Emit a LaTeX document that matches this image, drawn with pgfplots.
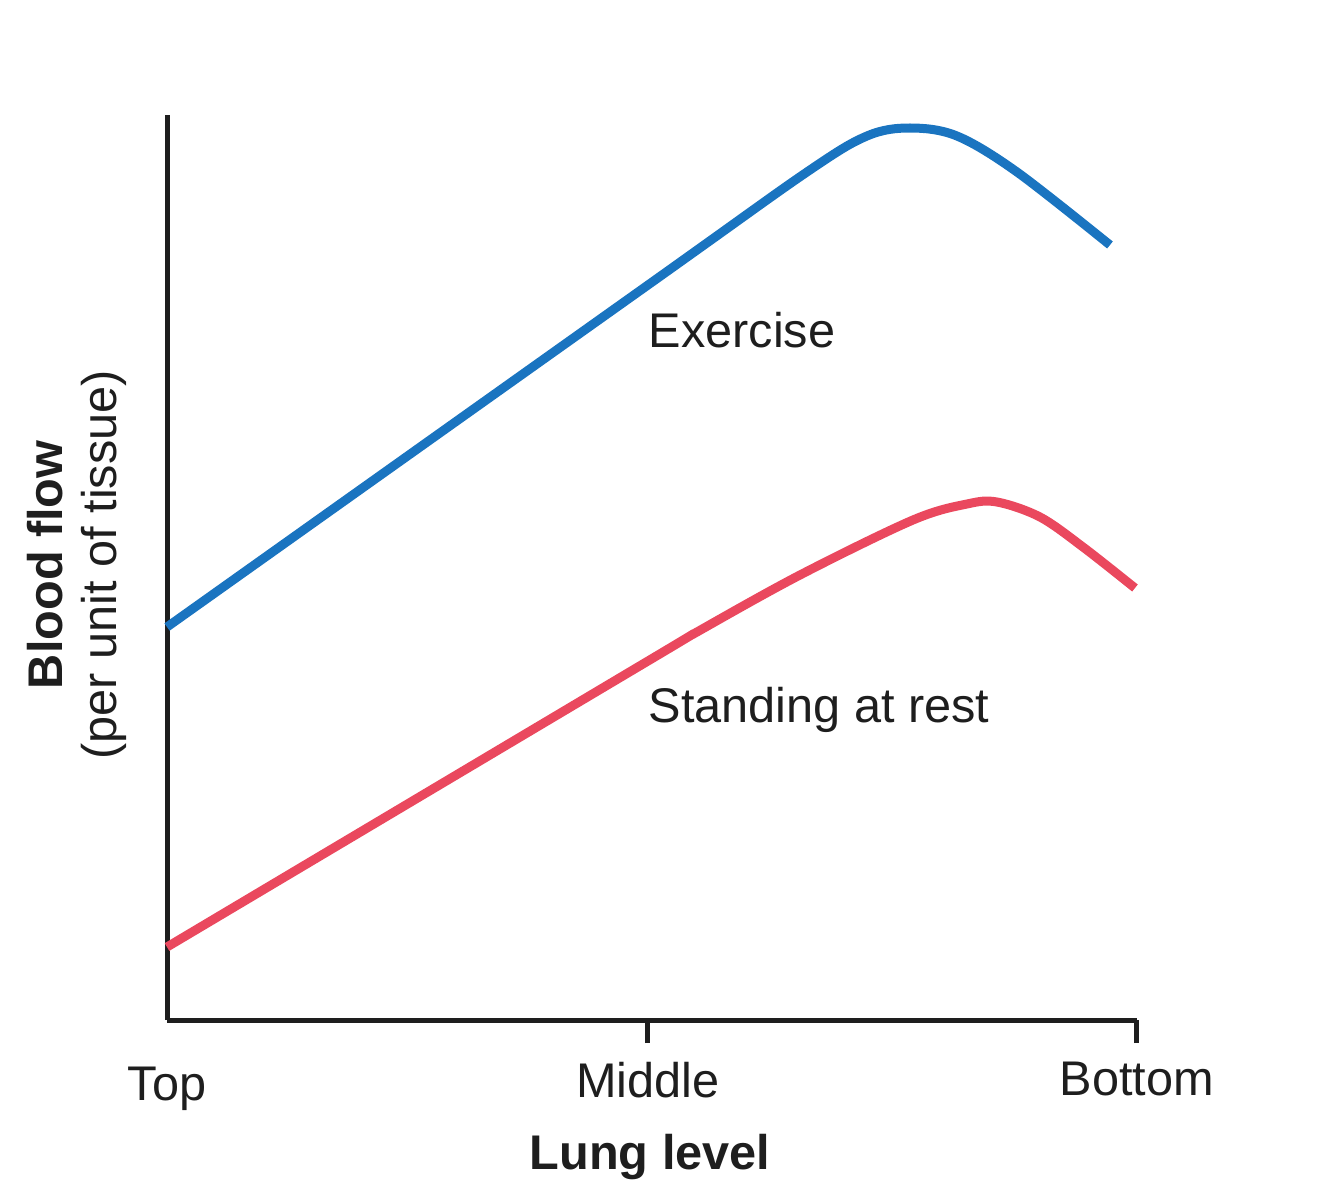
\documentclass[border=0pt]{standalone}
\usepackage{pgfplots}
\pgfplotsset{compat=1.18}
\usepackage{fontspec}
\setmainfont{Liberation Sans}

\definecolor{exblue}{RGB}{26,116,192}
\definecolor{restred}{RGB}{234,72,94}
\definecolor{ink}{RGB}{30,30,30}

\begin{document}
\begin{tikzpicture}
% fixed canvas: 1 unit of the data grid = 0.3pt
\useasboundingbox (-50.1pt,-54pt) rectangle (346.2pt,306pt);
\begin{axis}[
  at={(0pt,0pt)}, anchor=south west,
  scale only axis,
  width=291pt, height=271.5pt,
  xmin=0, xmax=970, ymin=0, ymax=905,
  axis lines=left,
  axis line style={-, line width=1.5pt, ink},
  xtick={481,970},
  xticklabels={Middle,Bottom},
  extra x ticks={0},
  extra x tick labels={Top},
  extra x tick style={major tick length=0pt,
                      tick label style={yshift=-8.4pt}},
  ytick=\empty,
  tick align=outside,
  major tick length=6.9pt,
  tick style={line width=1.5pt, ink},
  tick label style={font=\fontsize{14.6}{17}\selectfont, text=ink},
  xticklabel style={yshift=-2.2pt},
  xlabel={\bfseries Lung level},
  xlabel style={at={(axis description cs:0.498,-0.151)}, anchor=center,
                font=\fontsize{14.6}{17}\selectfont, text=ink},
  ylabel={{\bfseries Blood flow}\\(per unit of tissue)},
  ylabel style={at={(axis description cs:-0.0928,0.503)}, anchor=center,
                rotate=0, align=center,
                font=\fontsize{14.6}{16}\selectfont, text=ink},
  clip=false,
]
% exercise
\addplot[exblue, line width=2.7pt, smooth, tension=0.55, line cap=butt] coordinates {
  (0,393) (481,735) (640,848) (700,884) (743,892) (790,884) (850,848) (943,775)
};
% standing at rest
\addplot[restred, line width=2.7pt, smooth, tension=0.55, line cap=butt] coordinates {
  (0,73) (481,359) (530,388) (633,445) (746,500) (800,516) (830,518)
  (873,503) (916,473) (968,432)
};
\node[anchor=west, inner sep=0pt, font=\fontsize{14.6}{17}\selectfont, text=ink]
  at (axis cs:481,690) {Exercise};
\node[anchor=west, inner sep=0pt, font=\fontsize{14.6}{17}\selectfont, text=ink]
  at (axis cs:481,310) {Standing at rest};
\end{axis}
\end{tikzpicture}
\end{document}
